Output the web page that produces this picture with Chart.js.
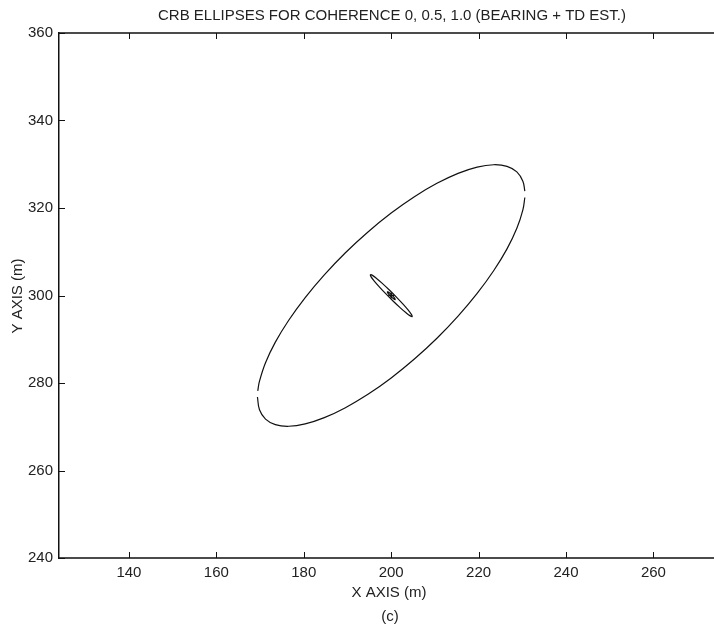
<!DOCTYPE html>
<html>
<head>
<meta charset="utf-8">
<script src="https://cdn.jsdelivr.net/npm/chart.js@4/dist/chart.umd.min.js"></script>
<style>
  html, body { margin: 0; padding: 0; background: #fff; }
  canvas { display: block; }
</style>
</head>
<body>
<canvas id="crb" width="714" height="626"></canvas>
<script>
// Ellipse outlines (x, y in metres)
// coherence 0 : large ellipse, drawn as two halves (small gaps left and right)
var ellipse0UpperX = [230.58, 230.13, 228.75, 226.50, 223.44, 219.67, 215.30, 210.47, 205.31, 200.00,
                      194.69, 189.53, 184.70, 180.33, 176.56, 173.50, 171.25, 169.87, 169.47];
var ellipse0UpperY = [323.85, 326.12, 328.25, 329.52, 329.89, 329.35, 327.92, 325.64, 322.59, 318.85,
                      314.53, 309.78, 304.72, 299.53, 294.35, 289.34, 284.65, 280.42, 278.18];
var ellipse0LowerX = [169.40, 169.87, 171.25, 173.50, 176.56, 180.33, 184.70, 189.53, 194.69, 200.00,
                      205.31, 210.47, 215.30, 219.67, 223.44, 226.50, 228.75, 230.13, 230.58];
var ellipse0LowerY = [276.80, 273.88, 271.75, 270.48, 270.11, 270.65, 272.08, 274.36, 277.41, 281.15,
                      285.47, 290.22, 295.28, 300.47, 305.65, 310.66, 315.35, 319.58, 322.40];

// coherence 0.5 : thin ellipse
var ellipse05X = [195.19, 195.63, 196.59, 197.96, 199.58, 201.25, 202.77, 203.96, 204.66, 204.81,
                  204.37, 203.41, 202.04, 200.42, 198.75, 197.23, 196.04, 195.34, 195.19];
var ellipse05Y = [304.81, 304.66, 303.96, 302.77, 301.25, 299.58, 297.96, 296.59, 295.63, 295.19,
                  295.34, 296.04, 297.23, 298.75, 300.42, 302.04, 303.41, 304.37, 304.81];

// coherence 1.0 : tiny ellipse round the source
var ellipse1X = [199.08, 199.45, 200.14, 200.75, 200.92, 200.55, 199.86, 199.25, 199.08];
var ellipse1Y = [300.92, 300.75, 300.14, 299.45, 299.08, 299.25, 299.86, 300.55, 300.92];

var sourceX = [200];
var sourceY = [300];

var xTicks = [140, 160, 180, 200, 220, 240, 260];
var yTicks = [240, 260, 280, 300, 320, 340, 360];

function puntos(xs, ys) {
    return xs.map(function (x, i) { return { x: x, y: ys[i] }; });
}

var colorLinea = '#111';
var fuente = '"Liberation Sans", Arial, Helvetica, sans-serif';

function serie(xs, ys) {
    return {
        data: puntos(xs, ys),
        showLine: true,
        borderColor: colorLinea,
        borderWidth: 1.2,
        pointRadius: 0,
        tension: 0.4,
        fill: false
    };
}

// Ticks hacia dentro, bordes superior e inferior y textos
var marco = {
    id: 'marco',
    afterDraw: function (chart) {
        var ctx = chart.ctx;
        var a = chart.chartArea;
        var x = chart.scales.x;
        var y = chart.scales.y;
        ctx.save();
        ctx.strokeStyle = colorLinea;
        ctx.lineWidth = 1.5;
        ctx.beginPath();
        ctx.moveTo(a.left, a.top);
        ctx.lineTo(chart.width, a.top);
        ctx.moveTo(a.left, a.bottom);
        ctx.lineTo(chart.width, a.bottom);
        ctx.stroke();
        ctx.lineWidth = 1;
        ctx.beginPath();
        xTicks.forEach(function (v) {
            var px = Math.round(x.getPixelForValue(v)) + 0.5;
            ctx.moveTo(px, a.bottom);
            ctx.lineTo(px, a.bottom - 6);
            ctx.moveTo(px, a.top);
            ctx.lineTo(px, a.top + 6);
        });
        yTicks.forEach(function (v) {
            var py = Math.round(y.getPixelForValue(v)) + 0.5;
            ctx.moveTo(a.left, py);
            ctx.lineTo(a.left + 6, py);
        });
        ctx.stroke();

        ctx.fillStyle = '#222';
        ctx.textAlign = 'center';
        ctx.textBaseline = 'middle';
        ctx.font = '15px ' + fuente;
        ctx.fillText('CRB ELLIPSES FOR COHERENCE 0, 0.5, 1.0 (BEARING + TD EST.)', 392, 16);
        ctx.fillText('X AXIS (m)', 389, 593);
        ctx.fillText('(c)', 390, 617);
        ctx.translate(18, 296);
        ctx.rotate(-Math.PI / 2);
        ctx.fillText('Y AXIS (m)', 0, 0);
        ctx.restore();
    }
};

var ctx = document.getElementById('crb').getContext('2d');

var grafico = new Chart(ctx, {
    type: 'scatter',
    data: {
        datasets: [
            serie(ellipse0UpperX, ellipse0UpperY),
            serie(ellipse0LowerX, ellipse0LowerY),
            serie(ellipse05X, ellipse05Y),
            serie(ellipse1X, ellipse1Y),
            {
                data: puntos(sourceX, sourceY),
                pointStyle: 'cross',
                pointRadius: 3,
                borderColor: colorLinea,
                borderWidth: 1.5
            }
        ]
    },
    options: {
        responsive: false,
        animation: false,
        devicePixelRatio: 1,
        layout: { padding: { top: 33, left: 0, right: 0, bottom: 0 } },
        plugins: {
            legend: { display: false },
            tooltip: { enabled: false }
        },
        scales: {
            x: {
                type: 'linear',
                min: 124,
                max: 272.6,
                afterFit: function (s) { s.height = 68; },
                afterBuildTicks: function (s) {
                    s.ticks = xTicks.map(function (v) { return { value: v }; });
                },
                grid: { display: false, drawTicks: false },
                border: { display: false },
                ticks: {
                    padding: 6,
                    color: '#222',
                    font: { family: fuente, size: 15 },
                    maxRotation: 0,
                    autoSkip: false
                }
            },
            y: {
                type: 'linear',
                min: 240,
                max: 360,
                afterFit: function (s) { s.width = 59; },
                afterBuildTicks: function (s) {
                    s.ticks = yTicks.map(function (v) { return { value: v }; });
                },
                grid: { display: false, drawTicks: false },
                border: { display: true, color: colorLinea, width: 1.5 },
                ticks: {
                    padding: 6,
                    color: '#222',
                    font: { family: fuente, size: 15 },
                    autoSkip: false
                }
            }
        }
    },
    plugins: [marco]
});
</script>
</body>
</html>
